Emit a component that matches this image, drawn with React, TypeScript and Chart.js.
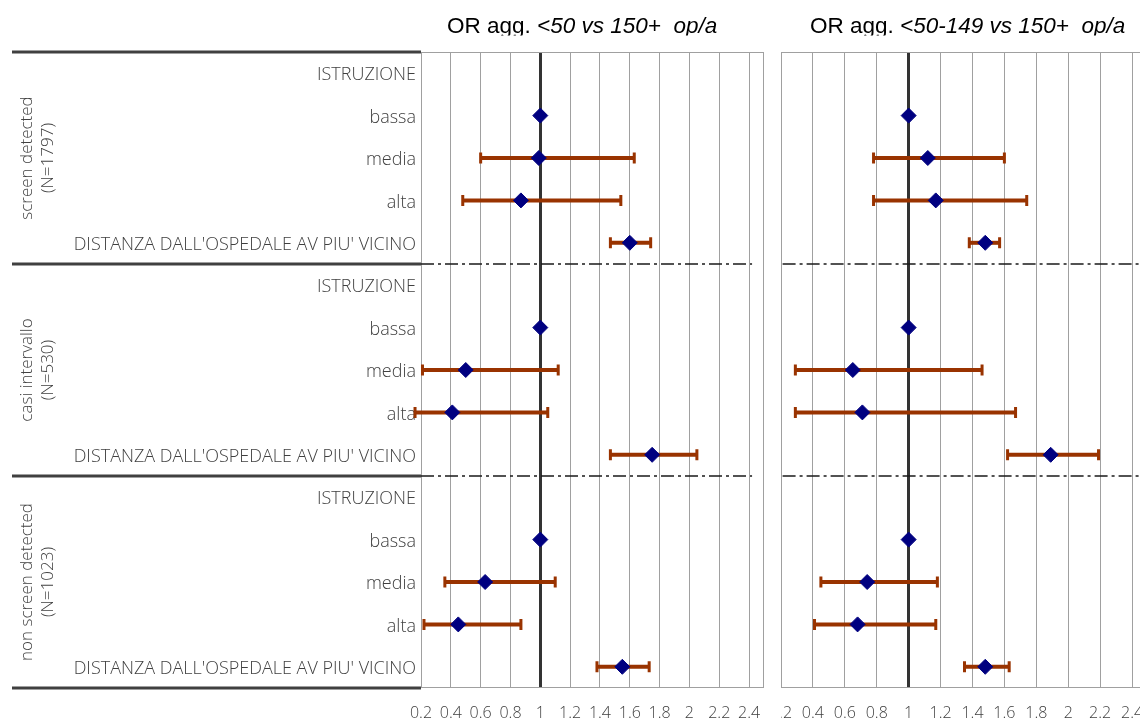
import { useEffect, useRef } from "react";
import { Chart, registerables } from "chart.js";

Chart.register(...registerables);

// ---------- DATA ----------
const rowLabels = [
  "ISTRUZIONE", "bassa", "media", "alta", "DISTANZA DALL'OSPEDALE AV PIU' VICINO",
  "ISTRUZIONE", "bassa", "media", "alta", "DISTANZA DALL'OSPEDALE AV PIU' VICINO",
  "ISTRUZIONE", "bassa", "media", "alta", "DISTANZA DALL'OSPEDALE AV PIU' VICINO",
];
const groupLine1 = ["screen detected", "casi intervallo", "non screen detected"];
const groupLine2 = ["(N=1797)", "(N=530)", "(N=1023)"];
const groupBounds = [0, 5, 10, 15];

const xTicks = [0.2, 0.4, 0.6, 0.8, 1, 1.2, 1.4, 1.6, 1.8, 2, 2.2, 2.4];

// Panel 1: <50 vs 150+
const orA = [null, 1.0, 0.99, 0.87, 1.6, null, 1.0, 0.5, 0.41, 1.75, null, 1.0, 0.63, 0.45, 1.55];
const loA = [null, null, 0.6, 0.48, 1.47, null, null, 0.21, 0.16, 1.47, null, null, 0.36, 0.22, 1.38];
const hiA = [null, null, 1.63, 1.54, 1.74, null, null, 1.12, 1.05, 2.05, null, null, 1.1, 0.87, 1.73];

// Panel 2: <50-149 vs 150+
const orB = [null, 1.0, 1.12, 1.17, 1.48, null, 1.0, 0.65, 0.71, 1.89, null, 1.0, 0.74, 0.68, 1.48];
const loB = [null, null, 0.78, 0.78, 1.38, null, null, 0.29, 0.29, 1.62, null, null, 0.45, 0.41, 1.35];
const hiB = [null, null, 1.6, 1.74, 1.57, null, null, 1.46, 1.67, 2.19, null, null, 1.18, 1.17, 1.63];

const titleA = ["OR agg. ", "<50 vs 150+  op/a"];
const titleB = ["OR agg. ", "<50-149 vs 150+  op/a"];

const sepLeft = [0.2, 2.42];
const sepRight = [0.21, 2.6];

// ---------- STYLE ----------
const LABEL_FONT = "'Open Sans', 'Noto Sans', sans-serif";
const TEXT_COLOR = "#404040";
const GRID_COLOR = "#a0a0a0";

function makePlugin(or: (number | null)[], lo: (number | null)[], hi: (number | null)[], title: string[], titleOffset: number, withTable: boolean) {
  return {
    id: "panel",
    beforeDatasetsDraw(chart: any) {
      const { ctx, chartArea: a, scales } = chart;
      const x = scales.x, y = scales.y;
      ctx.save();
      ctx.strokeStyle = GRID_COLOR;
      ctx.lineWidth = 1;
      ctx.strokeRect(a.left + 0.5, a.top + 0.5, a.right - a.left - 1, a.bottom - a.top - 1);
      ctx.strokeStyle = "#993300";
      or.forEach((_v, i) => {
        const l = lo[i], h = hi[i];
        if (l == null || h == null) return;
        const py = y.getPixelForValue(i + 0.5);
        const x0 = x.getPixelForValue(l), x1 = x.getPixelForValue(h);
        ctx.lineWidth = 4;
        ctx.beginPath();
        ctx.moveTo(x0, py);
        ctx.lineTo(x1, py);
        ctx.stroke();
        ctx.lineWidth = 3;
        ctx.beginPath();
        ctx.moveTo(x0, py - 5.5);
        ctx.lineTo(x0, py + 5.5);
        ctx.moveTo(x1, py - 5.5);
        ctx.lineTo(x1, py + 5.5);
        ctx.stroke();
      });
      ctx.restore();
    },
    afterDraw(chart: any) {
      const { ctx, chartArea: a, scales } = chart;
      const y = scales.y;
      ctx.save();
      // title
      ctx.beginPath();
      ctx.rect(0, 0, chart.width, 35.5);
      ctx.clip();
      ctx.fillStyle = "#000";
      ctx.textBaseline = "alphabetic";
      ctx.textAlign = "left";
      const tx = a.left + titleOffset;
      ctx.font = "22.5px 'Liberation Sans', Arial, sans-serif";
      ctx.fillText(title[0], tx, 33);
      const w0 = ctx.measureText(title[0]).width;
      ctx.font = "italic 22.5px 'Liberation Sans', Arial, sans-serif";
      ctx.fillText(title[1], tx + w0, 33);
      ctx.restore();

      if (withTable) {
        ctx.save();
        ctx.strokeStyle = "#404040";
        ctx.lineWidth = 3;
        groupBounds.forEach((b) => {
          const py = y.getPixelForValue(b);
          ctx.beginPath();
          ctx.moveTo(12, py);
          ctx.lineTo(a.left, py);
          ctx.stroke();
        });
        ctx.fillStyle = TEXT_COLOR;
        ctx.font = `300 17px ${LABEL_FONT}`;
        ctx.textAlign = "center";
        ctx.textBaseline = "middle";
        groupLine1.forEach((t, g) => {
          const yc = (y.getPixelForValue(groupBounds[g]) + y.getPixelForValue(groupBounds[g + 1])) / 2;
          ctx.save();
          ctx.translate(27, yc);
          ctx.rotate(-Math.PI / 2);
          ctx.fillText(t, 0, 0);
          ctx.restore();
          ctx.save();
          ctx.translate(48, yc);
          ctx.rotate(-Math.PI / 2);
          ctx.fillText(groupLine2[g], 0, 0);
          ctx.restore();
        });
        ctx.restore();
      }
    },
  };
}

function makeConfig(or: (number | null)[], sep: number[], showY: boolean, padLeft: number, padRight: number, plugin: any) {
  const sepSets = [5, 10].map((b) => ({
    type: "scatter" as const,
    data: sep.map((v) => ({ x: v, y: b })),
    showLine: true,
    borderColor: "#1a1a1a",
    borderWidth: 1.4,
    borderDash: [13, 4, 3, 4],
    pointRadius: 0,
    fill: false,
  }));
  return {
    type: "scatter" as const,
    data: {
      datasets: [
        {
          data: or.map((v, i) => (v == null ? null : { x: v, y: i + 0.5 })).filter((d) => d != null),
          pointStyle: "rectRot",
          pointRadius: 7.5,
          pointBackgroundColor: "#000080",
          pointBorderColor: "#000080",
          pointBorderWidth: 1,
          showLine: false,
        },
        ...sepSets,
      ],
    },
    options: {
      animation: false,
      responsive: false,
      events: [],
      layout: { padding: { top: 52, left: padLeft, right: padRight, bottom: 0 } },
      plugins: { legend: { display: false }, tooltip: { enabled: false }, title: { display: false } },
      scales: {
        x: {
          type: "linear",
          min: 0.2,
          max: 2.5,
          afterBuildTicks: (s: any) => {
            s.ticks = xTicks.map((v) => ({ value: v }));
          },
          afterFit: (s: any) => {
            s.height = 34;
          },
          grid: {
            drawTicks: false,
            color: (c: any) => (c.tick && c.tick.value === 1 ? "#333333" : GRID_COLOR),
            lineWidth: (c: any) => (c.tick && c.tick.value === 1 ? 3 : 1),
          },
          border: { display: false },
          ticks: {
            padding: 16,
            color: TEXT_COLOR,
            font: { family: LABEL_FONT, size: 16, weight: "300" },
            callback: (v: any) => String(Math.round(Number(v) * 10) / 10),
            maxRotation: 0,
            autoSkip: false,
          },
        },
        y: {
          type: "linear",
          min: 0,
          max: 15,
          reverse: true,
          display: showY,
          afterBuildTicks: (s: any) => {
            s.ticks = rowLabels.map((_l, i) => ({ value: i + 0.5 }));
          },
          afterFit: (s: any) => {
            if (showY) s.width = 421;
          },
          grid: { display: false, drawTicks: false },
          border: { display: false },
          ticks: {
            padding: 5,
            labelOffset: 2,
            color: TEXT_COLOR,
            font: { family: LABEL_FONT, size: 18, weight: "300" },
            callback: (_v: any, i: number) => rowLabels[i],
            autoSkip: false,
          },
        },
      },
    },
    plugins: [plugin],
  };
}

function Panel(props: { cfg: any; width: number; height: number; style: any }) {
  const ref = useRef<HTMLCanvasElement | null>(null);
  useEffect(() => {
    if (!ref.current) return;
    const chart = new Chart(ref.current, props.cfg);
    return () => chart.destroy();
  }, []);
  return <canvas ref={ref} width={props.width} height={props.height} style={{ display: "block", ...props.style }} />;
}

export default function App() {
  const cfgA = makeConfig(orA, sepLeft, true, 0, 16, makePlugin(orA, loA, hiA, titleA, 26, true));
  const cfgB = makeConfig(orB, sepRight, false, 40, 19, makePlugin(orB, loB, hiB, titleB, 29, false));
  return (
    <div style={{ position: "absolute", left: 0, top: 0, width: 1140, height: 722, overflow: "hidden", background: "#fff" }}>
      <div style={{ position: "absolute", left: 0, top: 0, width: 780, height: 722 }}>
        <Panel cfg={cfgA} width={780} height={722} style={{}} />
      </div>
      <div style={{ position: "absolute", left: 781, top: 0, width: 359, height: 722, overflow: "hidden" }}>
        <Panel cfg={cfgB} width={426} height={722} style={{ position: "absolute", left: -40, top: 0 }} />
      </div>
    </div>
  );
}
